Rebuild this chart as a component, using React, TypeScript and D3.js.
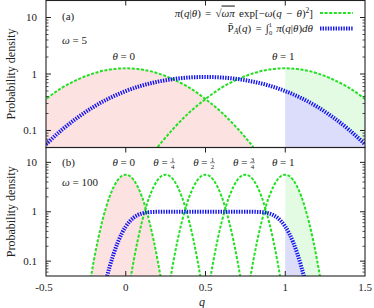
import * as d3 from "d3";

// chart geometry
const W = 374;
const H = 308;
const X_LEFT = 46;
const X_RIGHT = 365;
const PANEL_A = { top: 0.5, bottom: 147.5 };
const PANEL_B = { top: 147.5, bottom: 276 };
const GREEN = "#22e022";
const BLUE = "#1414f0";
const INK = "#222";
const FONT = "Liberation Serif, Times New Roman, DejaVu Serif, serif";

// axes
const qDomain = [-0.5, 1.5];
const qTicks = [-0.5, 0, 0.5, 1, 1.5];
const qTickLabels = ["-0.5", "0", "0.5", "1", "1.5"];
const densityDomain = [0.05, 20];
const densityTicks = [0.1, 1, 10];
const densityTickLabels = ["0.1", "1", "10"];

// panel (a), omega = 5: gaussian profile around theta, and the averaged density
const thetasA = [0, 1];
const offsetA = [-0.8, -0.7, -0.6, -0.5, -0.4, -0.3, -0.2, -0.1, 0, 0.1, 0.2, 0.3, 0.4, 0.5, 0.6, 0.7, 0.8];
const profileA = [0.051, 0.109, 0.21, 0.36, 0.57, 0.8, 1.03, 1.2, 1.26, 1.2, 1.03, 0.8, 0.57, 0.36, 0.21, 0.109, 0.051];
const qAvgA = [-0.5, -0.4, -0.3, -0.2, -0.1, 0, 0.1, 0.2, 0.3, 0.4, 0.5, 0.6, 0.7, 0.8, 0.9, 1, 1.1, 1.2, 1.3, 1.4, 1.5];
const avgA = [0.057, 0.103, 0.171, 0.264, 0.376, 0.499, 0.622, 0.731, 0.815, 0.868, 0.886, 0.868, 0.815, 0.731, 0.622, 0.499, 0.376, 0.264, 0.171, 0.103, 0.057];

// panel (b), omega = 100
const thetasB = [0, 0.25, 0.5, 0.75, 1];
const thetaLabelsB = ["0", "1/4", "1/2", "3/4", "1"];
const offsetB = [-0.225, -0.2, -0.175, -0.15, -0.125, -0.1, -0.075, -0.05, -0.025, 0, 0.025, 0.05, 0.075, 0.1, 0.125, 0.15, 0.175, 0.2, 0.225];
const profileB = [0.036, 0.103, 0.264, 0.595, 1.18, 2.08, 3.21, 4.39, 5.3, 5.64, 5.3, 4.39, 3.21, 2.08, 1.18, 0.595, 0.264, 0.103, 0.036];
const qAvgB = [-0.15, -0.125, -0.1, -0.075, -0.05, -0.025, 0, 0.025, 0.05, 0.075, 0.1, 0.125, 0.15, 0.175, 0.2, 0.25, 0.3, 0.5, 0.7, 0.75, 0.8, 0.825, 0.85, 0.875, 0.9, 0.925, 0.95, 0.975, 1, 1.025, 1.05, 1.075, 1.1, 1.125, 1.15];
const avgB = [0.017, 0.039, 0.079, 0.144, 0.24, 0.362, 0.5, 0.638, 0.76, 0.856, 0.921, 0.961, 0.983, 0.993, 0.998, 1.0, 1.0, 1.0, 1.0, 1.0, 0.998, 0.993, 0.983, 0.961, 0.921, 0.856, 0.76, 0.638, 0.5, 0.362, 0.24, 0.144, 0.079, 0.039, 0.017];

type Pt = [number, number];

const xScale = d3.scaleLinear().domain(qDomain).range([X_LEFT, X_RIGHT]);

const minorTicks: number[] = [];
[0.01, 0.1, 1, 10].forEach((dec) => {
  for (let k = 2; k <= 9; k++) {
    const v = dec * k;
    if (v > densityDomain[0] + 1e-9 && v < densityDomain[1] - 1e-9) minorTicks.push(v);
  }
});

const ThetaLabel = ({ x, y, label }: { x: number; y: number; label: string }) => {
  if (!label.includes("/")) {
    return (
      <text x={x} y={y} textAnchor="middle" fontSize={11}>
        <tspan fontStyle="italic">θ</tspan> = {label}
      </text>
    );
  }
  const [num, den] = label.split("/");
  return (
    <g>
      <text x={x + 4} y={y} textAnchor="end" fontSize={11}>
        <tspan fontStyle="italic">θ</tspan> =
      </text>
      <text x={x + 9} y={y - 4} textAnchor="middle" fontSize={7}>{num}</text>
      <line x1={x + 6.5} x2={x + 11.5} y1={y - 2.8} y2={y - 2.8} stroke={INK} strokeWidth={0.5} />
      <text x={x + 9} y={y + 3.5} textAnchor="middle" fontSize={7}>{den}</text>
    </g>
  );
};

type PanelProps = {
  id: string;
  top: number;
  bottom: number;
  thetas: number[];
  offsets: number[];
  profile: number[];
  qAvg: number[];
  avg: number[];
  showXLabels: boolean;
};

const Panel = ({ id, top, bottom, thetas, offsets, profile, qAvg, avg, showXLabels }: PanelProps) => {
  const yScale = d3.scaleLog().domain(densityDomain).range([bottom, top]);
  const line = d3
    .line<Pt>()
    .x((d) => xScale(d[0]))
    .y((d) => yScale(d[1]))
    .curve(d3.curveMonotoneX);
  const area = d3
    .area<Pt>()
    .x((d) => xScale(d[0]))
    .y0(bottom)
    .y1((d) => yScale(d[1]))
    .curve(d3.curveMonotoneX);

  const gauss = thetas.map((t) => offsets.map((o, i): Pt => [t + o, profile[i]]));
  const avgPts = qAvg.map((q, i): Pt => [q, avg[i]]);
  const first = gauss[0];
  const last = gauss[gauss.length - 1];
  const lastRight = last.filter((d) => d[0] >= 1 - 1e-9);
  const avgRight = avgPts.filter((d) => d[0] >= 1 - 1e-9);

  return (
    <g>
      <defs>
        <clipPath id={`clip-${id}`}>
          <rect x={X_LEFT} y={top} width={X_RIGHT - X_LEFT} height={bottom - top} />
        </clipPath>
      </defs>
      <g clipPath={`url(#clip-${id})`}>
        <path d={area(first) || undefined} fill="#fde2e2" />
        <path d={area(lastRight) || undefined} fill="#e2fbe2" />
        <path d={area(avgRight) || undefined} fill="#dcdcfb" />
        {gauss.map((g, i) => (
          <path key={i} d={line(g) || undefined} fill="none" stroke={GREEN} strokeWidth={2} strokeDasharray="3,1.6" />
        ))}
        <path d={line(avgPts) || undefined} fill="none" stroke={BLUE} strokeWidth={4} strokeDasharray="1.4,1.2" />
      </g>
      {/* frame */}
      <rect x={X_LEFT} y={top} width={X_RIGHT - X_LEFT} height={bottom - top} fill="none" stroke={INK} strokeWidth={1.1} />
      {/* y ticks */}
      {densityTicks.map((v, i) => (
        <g key={v}>
          <line x1={X_LEFT} x2={X_LEFT + 5} y1={yScale(v)} y2={yScale(v)} stroke={INK} />
          <line x1={X_RIGHT} x2={X_RIGHT - 5} y1={yScale(v)} y2={yScale(v)} stroke={INK} />
          <text x={37} y={yScale(v) + 3.5} textAnchor="end" fontSize={11}>{densityTickLabels[i]}</text>
        </g>
      ))}
      {minorTicks.map((v) => (
        <g key={v}>
          <line x1={X_LEFT} x2={X_LEFT + 2.5} y1={yScale(v)} y2={yScale(v)} stroke={INK} strokeWidth={0.8} />
          <line x1={X_RIGHT} x2={X_RIGHT - 2.5} y1={yScale(v)} y2={yScale(v)} stroke={INK} strokeWidth={0.8} />
        </g>
      ))}
      {/* x ticks */}
      {qTicks.slice(1, -1).map((q) => (
        <g key={q}>
          <line x1={xScale(q)} x2={xScale(q)} y1={top} y2={top + 5} stroke={INK} />
          {showXLabels && <line x1={xScale(q)} x2={xScale(q)} y1={bottom} y2={bottom - 5} stroke={INK} />}
        </g>
      ))}
      {showXLabels &&
        qTicks.map((q, i) => (
          <text key={q} x={xScale(q) - (q < 0 ? 2 : 0)} y={291} textAnchor="middle" fontSize={11}>
            {qTickLabels[i]}
          </text>
        ))}
      <text
        transform={`translate(15, ${(top + bottom) / 2}) rotate(-90)`}
        textAnchor="middle"
        fontSize={12}
      >
        Probability density
      </text>
    </g>
  );
};

export default function App() {
  return (
    <svg
      width={W}
      height={H}
      style={{ position: "absolute", left: 0, top: 0, background: "#fff", fontFamily: FONT }}
      fill={INK}
    >
      <Panel id="a" {...PANEL_A} thetas={thetasA} offsets={offsetA} profile={profileA} qAvg={qAvgA} avg={avgA} showXLabels={false} />
      <Panel id="b" {...PANEL_B} thetas={thetasB} offsets={offsetB} profile={profileB} qAvg={qAvgB} avg={avgB} showXLabels={true} />

      {/* panel (a) annotations */}
      <text x={62} y={20} fontSize={11}>(a)</text>
      <text x={62} y={44} fontSize={11}>
        <tspan fontStyle="italic">ω</tspan> = 5
      </text>
      {thetasA.map((t) => (
        <ThetaLabel key={t} x={xScale(t) - 2} y={60} label={String(t)} />
      ))}

      {/* legend */}
      <text x={313} y={16.5} textAnchor="end" fontSize={11} wordSpacing={1.5}>
        <tspan fontStyle="italic">π</tspan>(<tspan fontStyle="italic">q</tspan>|<tspan fontStyle="italic">θ</tspan>) = √
        <tspan fontStyle="italic" textDecoration="overline">ωπ</tspan> exp[−<tspan fontStyle="italic">ω</tspan>(<tspan fontStyle="italic">q</tspan> − <tspan fontStyle="italic">θ</tspan>)
        <tspan dy={-4} fontSize={7.5}>2</tspan>
        <tspan dy={4}>]</tspan>
      </text>
      <line x1={320} x2={353} y1={13} y2={13} stroke={GREEN} strokeWidth={2} strokeDasharray="3,1.6" />
      <text x={313} y={32} textAnchor="end" fontSize={11} wordSpacing={1.5}>
        P̄<tspan dy={2} fontSize={7.5} fontStyle="italic">A</tspan>
        <tspan dy={-2}>(</tspan><tspan fontStyle="italic">q</tspan>) = ∫
        <tspan dy={3} fontSize={6.5}>0</tspan>
        <tspan dx={-3.5} dy={-8} fontSize={6.5}>1</tspan>
        <tspan dy={5}> </tspan><tspan fontStyle="italic">π</tspan>(<tspan fontStyle="italic">q</tspan>|<tspan fontStyle="italic">θ</tspan>)<tspan fontStyle="italic">dθ</tspan>
      </text>
      <line x1={320} x2={353} y1={28.5} y2={28.5} stroke={BLUE} strokeWidth={4} strokeDasharray="1.4,1.2" />

      {/* panel (b) annotations */}
      <text x={62} y={166} fontSize={11}>(b)</text>
      <text x={62} y={186} fontSize={11}>
        <tspan fontStyle="italic">ω</tspan> = 100
      </text>
      {thetasB.map((t, i) => (
        <ThetaLabel key={t} x={xScale(t) - 2} y={165.5} label={thetaLabelsB[i]} />
      ))}

      <text x={202} y={306} textAnchor="middle" fontSize={12} fontStyle="italic">q</text>
    </svg>
  );
}
